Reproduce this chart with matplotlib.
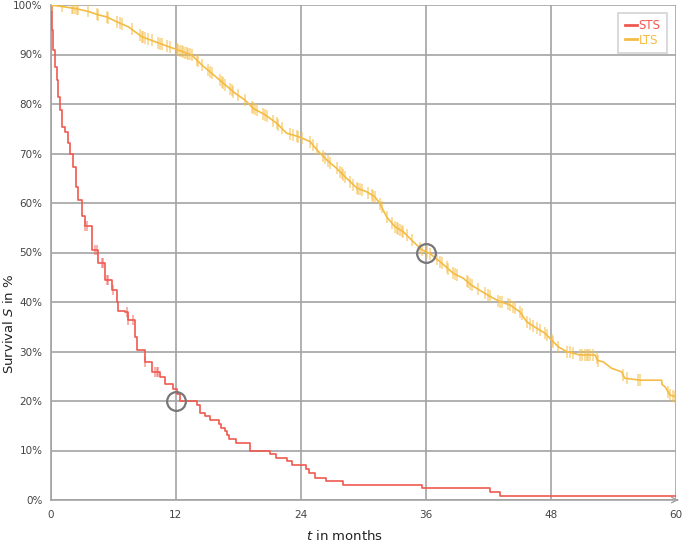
import numpy as np
import matplotlib
matplotlib.use('Agg')
import matplotlib.pyplot as plt

# ======== Data ========

# STS: Kaplan-Meier step curve (months, survival %)
sts_t = [0, 0.09, 0.16, 0.25, 0.41, 0.57, 0.73, 0.89, 1.12, 1.37, 1.63, 1.85, 2.17, 2.43,
         2.59, 2.97, 3.29, 3.93, 4.57, 5.21, 5.86, 6.34, 6.49, 7.13, 7.45, 8.09, 8.26, 9.05,
         9.7, 10.5, 10.97, 11.77, 12.1, 12.41, 14.07, 14.33, 14.81, 15.29, 16.16, 16.32,
         16.73, 16.9, 17.12, 17.76, 19.13, 21.05, 21.6, 22.65, 23.2, 24.5, 24.8, 25.4, 26.4,
         28.1, 35.6, 42.2, 43.1, 60]
sts_s = [100, 97.3, 95, 90.9, 87.5, 84.8, 81.5, 78.8, 75.4, 74.4, 72.1, 70.0, 67.3, 63.3,
         60.6, 57.4, 55.3, 50.6, 47.9, 44.5, 42.5, 40.1, 38.1, 37.9, 36.4, 33.0, 30.3, 27.9,
         25.9, 24.9, 23.5, 22.5, 21.5, 20.0, 19.1, 17.5, 16.9, 16.1, 15.4, 14.6,
         13.9, 13.2, 12.3, 11.5, 10.0, 9.3, 8.4, 7.8, 7.0, 6.2, 5.4, 4.5, 3.9,
         3.0, 2.4, 1.6, 0.8, 0.8]
sts_cens = [3.29, 3.45, 4.25, 4.41, 4.89, 5.05, 5.37, 5.53, 6.01, 7.29, 7.45, 7.93, 9.05,
            10.01, 10.17, 10.33]

# LTS: survival curve read along its path (months, survival %)
lts_t = [0, 1.05, 2.33, 3.6, 4.57, 5.38, 6.34, 7.45, 8.74, 10.0, 11.29, 12.25, 13.54, 14.5,
         15.46, 16.57, 17.69, 18.65, 19.45, 20.6, 21.7, 22.65, 23.8, 24.9, 25.7, 26.5, 27.45,
         28.4, 29.4, 30.3, 31.1, 31.6, 32.25, 33.05, 33.85, 34.65, 35.6, 36.4, 37.4, 38.65,
         39.6, 40.4, 41.4, 42.2, 43.1, 44.1, 45.05, 45.7, 46.65, 47.45, 48.1, 48.7, 49.5,
         50.8, 52.25, 52.5, 53.05, 53.85, 54.8, 55.1, 56.6, 58.65, 58.7, 58.97, 59.45,
         59.93, 60]
lts_s = [100, 99.7, 99.3, 98.7, 98.0, 97.6, 96.6, 95.6, 93.6, 92.6, 91.6, 90.9, 89.9, 87.9,
         86.2, 84.2, 82.2, 80.8, 79.1, 77.8, 76.1, 74.1, 73.4, 72.4, 70.4, 68.7, 67.0,
         65.0, 63.0, 62.3, 61.3, 59.9, 57.2, 55.2, 54.2, 52.5, 50.6, 49.8, 48.1, 45.8,
         44.8, 43.4, 42.1, 41.1, 40.1, 39.4, 38.0, 36.0, 34.7, 33.7, 32.3, 31.0, 30.0,
         29.3, 29.3, 28.2, 27.9, 26.6, 25.9, 24.6, 24.2, 24.2, 23.3, 22.9, 21.2,
         20.9, 20.9]
lts_cens = [0.16, 1.05, 2.01, 2.17, 2.33, 2.49, 2.65, 3.61, 4.41, 4.57, 5.37, 5.53, 6.33,
            6.65, 6.81, 7.77, 8.57, 8.73, 8.89, 9.05, 9.37, 9.69, 10.33, 10.49, 10.65, 11.13,
            11.45, 12.09, 12.25, 12.41, 12.57, 12.73, 12.89, 13.05, 13.21, 13.37, 13.53,
            14.01, 14.17, 14.49, 15.13, 15.29, 15.45, 16.25, 16.41, 16.57, 16.73, 17.21,
            17.37, 17.53, 18.01, 18.65, 19.29, 19.45, 19.61, 19.77, 20.41, 20.57, 20.73,
            21.37, 21.69, 21.85, 22.17, 22.97, 23.29, 23.61, 23.77, 24.09, 24.89, 25.21,
            25.53, 26.17, 26.33, 26.65, 26.81, 27.45, 27.77, 27.93, 28.09, 28.25, 28.73,
            29.05, 29.37, 29.53, 29.69, 29.85, 30.49, 30.81, 30.97, 31.13, 31.61, 31.77,
            32.25, 32.73, 33.05, 33.21, 33.37, 33.53, 33.69, 33.85, 34.17, 34.65, 35.45,
            35.61, 36.09, 36.41, 37.05, 37.37, 37.53, 38.01, 38.17, 38.65, 38.81, 38.97,
            39.93, 40.09, 40.25, 40.41, 41.05, 41.69, 42.01, 42.17, 42.97, 43.13, 43.29,
            43.93, 44.09, 44.41, 44.57, 45.05, 45.21, 45.69, 46.01, 46.33, 46.65, 46.97,
            47.45, 47.61, 48.09, 48.25, 48.73, 49.53, 49.85, 50.17, 50.81, 50.97, 51.29,
            51.45, 51.61, 51.77, 52.09, 52.41, 52.57, 54.97, 55.29, 56.41, 56.57, 59.29,
            59.45, 59.77, 59.93]

# Highlighted points (median / 1-year marks)
circle_t = [12, 36]
circle_s = [20, 50]

x_ticks = [0, 12, 24, 36, 48, 60]
y_ticks = list(range(0, 101, 10))
y_ticklabels = [f"{v}%" for v in y_ticks]

sts_color = '#ef5a50'
lts_color = '#f4bc45'
grid_color = '#a3a3a3'
text_color = '#444444'

# ======== Functions ========

# Survival value of a curve at given times
def curve_lookup(t, s, times, steps=True):
    if steps:
        idx = np.searchsorted(np.asarray(t), np.asarray(times), side='right') - 1
        return np.asarray(s)[idx]
    return np.interp(times, t, s)

# ======== Plot ========

fig = plt.figure(figsize=(6.85, 5.45), dpi=100)
ax = fig.add_axes([50.7 / 685, 45 / 545, 625 / 685, 495 / 545])

ax.set_xlim(0, 60)
ax.set_ylim(0, 100)
ax.set_xticks(x_ticks)
ax.set_yticks(y_ticks)
ax.set_yticklabels(y_ticklabels)
ax.grid(True, color=grid_color, lw=1.2, zorder=0)
ax.set_axisbelow(True)
ax.tick_params(length=0, labelsize=7.5, labelcolor=text_color)
ax.tick_params(axis='x', pad=7)
ax.tick_params(axis='y', pad=6)
for side in ['top', 'right']:
    ax.spines[side].set_visible(False)
for side in ['left', 'bottom']:
    ax.spines[side].set_color(grid_color)
    ax.spines[side].set_linewidth(1.2)

# arrow at the end of the time axis
ax.annotate('', xy=(60.55, 0), xytext=(59.9, 0),
            arrowprops=dict(arrowstyle='->', color=grid_color, lw=1),
            annotation_clip=False)

ax.plot(sts_t, sts_s, drawstyle='steps-post', color=sts_color, lw=1.2, label='STS',
        zorder=3)
ax.plot(lts_t, lts_s, color=lts_color, lw=1.2, label='LTS', zorder=3)

# censoring marks
ax.plot(sts_cens, curve_lookup(sts_t, sts_s, sts_cens), ls='none', marker='|',
        ms=7.5, mew=1.1, color=sts_color, alpha=0.6, zorder=3)
ax.plot(lts_cens, curve_lookup(lts_t, lts_s, lts_cens, steps=False), ls='none',
        marker='|', ms=8, mew=1.1, color=lts_color, alpha=0.65, zorder=3)

ax.plot(circle_t, circle_s, ls='none', marker='o', ms=13.5, mfc='none', mec='#777777',
        mew=1.6, zorder=4)

ax.set_xlabel('$t$ in months', fontsize=9.5, color='#222222')
ax.xaxis.set_label_coords(0.47, -0.058)
ax.set_ylabel('Survival $S$ in %', fontsize=9.5, color='#222222')
ax.yaxis.set_label_coords(-0.056, 0.355)

leg = ax.legend(loc='upper right', bbox_to_anchor=(0.986, 0.984), borderaxespad=0,
                fancybox=False, frameon=True, fontsize=8.5, handlelength=1.0,
                handletextpad=0.15, borderpad=0.55, labelspacing=0.1)
leg.get_frame().set_edgecolor('#c8c8c8')
leg.get_frame().set_linewidth(1.2)
for line, txt in zip(leg.get_lines(), leg.get_texts()):
    txt.set_color(line.get_color())
    line.set_linewidth(2)

fig.savefig('out.png', dpi=100)
